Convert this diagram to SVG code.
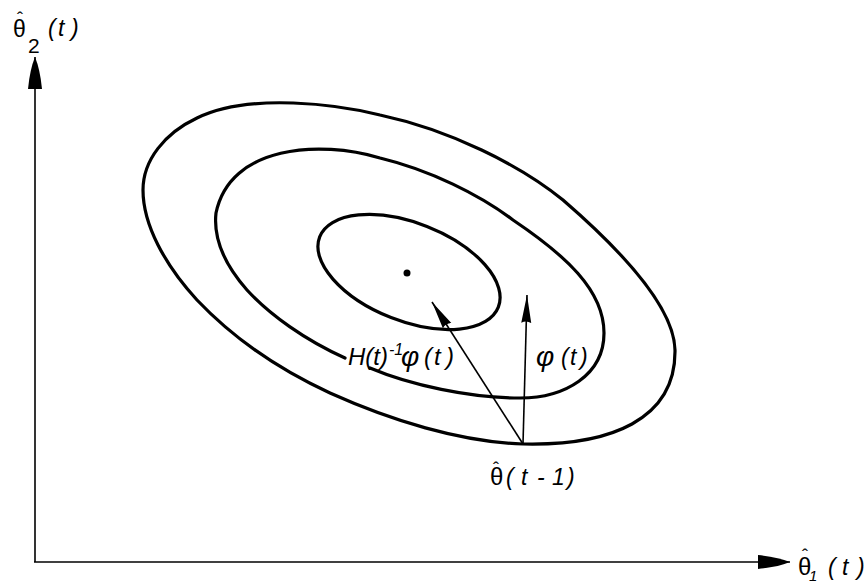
<svg xmlns="http://www.w3.org/2000/svg" width="868" height="585" viewBox="0 0 868 585">
<style>
.curve{fill:none;stroke:#000;stroke-width:3.2;stroke-linecap:round}
.vec{fill:none;stroke:#000;stroke-width:1.6}
.axis{fill:none;stroke:#000;stroke-width:1.6}
.lbl{font-family:"Liberation Sans","DejaVu Sans",sans-serif;font-style:italic;font-size:23px;fill:#000}
.up{font-style:normal}
.hat{font-style:normal;font-size:18px}
</style>
<defs>
<marker id="head" markerUnits="userSpaceOnUse" markerWidth="30" markerHeight="12" refX="28" refY="5.5" orient="auto">
<path d="M0,0.5 L28,5.5 L0,10.5 Q3,5.5 0,0.5 z" fill="#000"/>
</marker>
<marker id="axhead" markerUnits="userSpaceOnUse" markerWidth="34" markerHeight="16" refX="32" refY="7" orient="auto">
<path d="M0,0 Q20,2 32,7 Q20,12 0,14 z" fill="#000"/>
</marker>
</defs>
<rect width="868" height="585" fill="#fff"/>
<g id="axes">
<line class="axis" x1="35" y1="562" x2="35" y2="57" marker-end="url(#axhead)"/>
<line class="axis" x1="34" y1="562" x2="790" y2="562" marker-end="url(#axhead)"/>
</g>
<g id="outer-contour">
<path class="curve" d="M523,444 C610,446 676,420 675,350 C674,305 615,245 563,200 C520,165 450,130 380,115 C340,105 250,92 197,118 C165,133 143,160 143,190 C143,225 165,265 197,300 C235,340 280,370 330,393 C390,420 460,442 523,444 Z"/>
</g>
<g id="middle-contour">
<path class="curve" d="M370,368 C410,385 470,398 520,398 C565,398 604,375 604,333 C604,290 565,255 513,220 C480,195 430,170 380,158 C320,140 230,145 216,213 C213,240 225,265 247,290 C270,315 305,340 345,358"/>
</g>
<g id="inner-contour">
<ellipse class="curve" cx="409" cy="272" rx="96" ry="49" transform="rotate(21.5 409 272)"/>
<circle cx="407" cy="273" r="3.5" fill="#000"/>
</g>
<g id="connectors">
<line class="vec" x1="523" y1="444" x2="432" y2="302" marker-end="url(#head)"/>
<line class="vec" x1="523" y1="444" x2="527" y2="295" marker-end="url(#head)"/>
</g>
<g id="label-theta2">
<text class="lbl" y="37"><tspan class="up" x="13" font-size="23">θ</tspan><tspan class="hat" x="17" y="25">ˆ</tspan><tspan class="up" x="28" y="53" font-size="21">2</tspan><tspan x="48 58 71" y="36">(t)</tspan></text>
</g>
<g id="label-theta1">
<text class="lbl" y="575"><tspan class="up" x="798" font-size="24">θ</tspan><tspan class="hat" x="802" y="562">ˆ</tspan><tspan x="809" y="581" font-size="15">1</tspan><tspan x="828 842 857" y="575">(t)</tspan></text>
</g>
<g id="label-Hphi">
<text class="lbl" y="365"><tspan x="348" font-size="24">H(t)</tspan><tspan x="389" y="355" font-size="16">-1</tspan><tspan x="401" y="366" font-size="28">φ</tspan><tspan x="424 434 446" y="365" font-size="24">(t)</tspan></text>
</g>
<g id="label-phi">
<text class="lbl" y="366"><tspan x="536" font-size="28">φ</tspan><tspan x="561 570 580" y="365" font-size="23">(t)</tspan></text>
</g>
<g id="label-theta-prev">
<text class="lbl" y="485"><tspan class="up" x="490" font-size="24">θ</tspan><tspan class="hat" x="493" y="475">ˆ</tspan><tspan x="506 521 537 552 567" y="485">(t-1)</tspan></text>
</g>
</svg>
